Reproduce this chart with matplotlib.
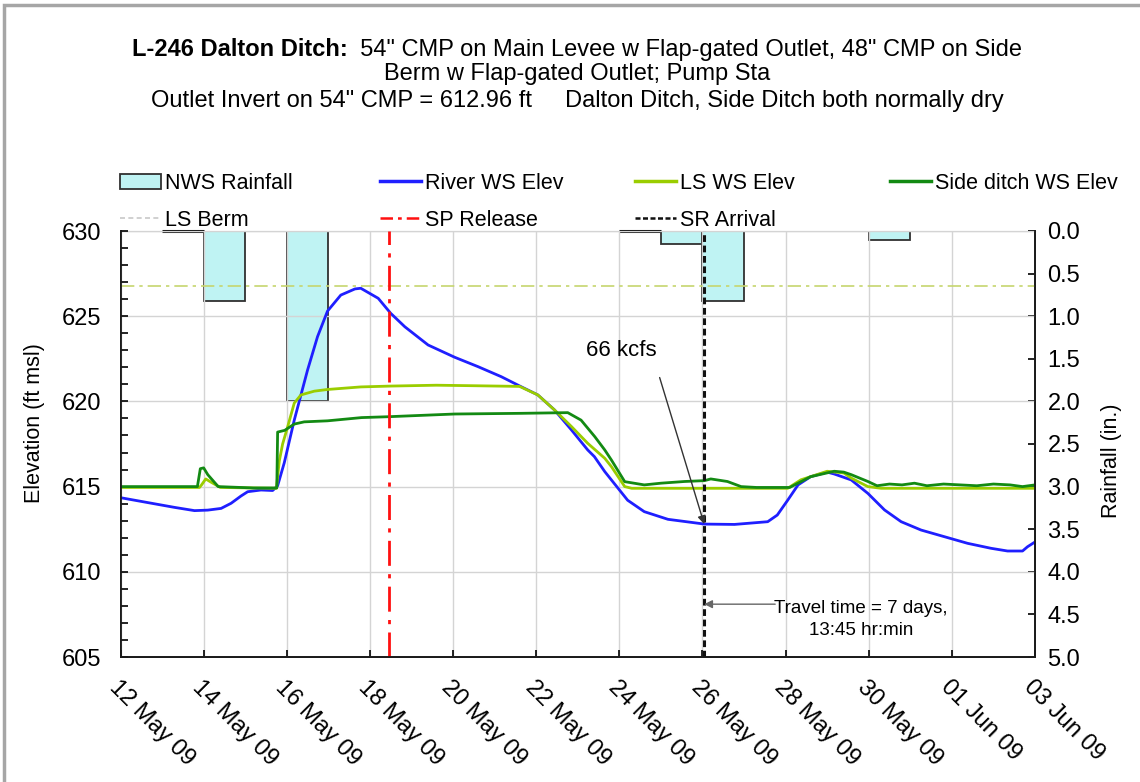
import matplotlib
matplotlib.use("Agg")
import matplotlib.pyplot as plt
import matplotlib.dates as mdates
from matplotlib.patches import Rectangle, Patch
from matplotlib.lines import Line2D
from matplotlib.ticker import FixedLocator, MultipleLocator, FormatStrFormatter
import pandas as pd

plt.rcParams['font.family'] = ['Liberation Sans', 'DejaVu Sans']

START = pd.Timestamp('2009-05-12')

# --- data (days after 12 May 09 00:00) ---
river_day = [0.0, 0.66, 1.3, 1.78, 2.1, 2.26, 2.42, 2.66, 2.9, 3.06, 3.38, 3.66, 3.78,
             3.94, 4.18, 4.5, 4.74, 4.98, 5.3, 5.64, 5.78, 5.88, 6.2, 6.5, 6.84, 7.4,
             8.04, 8.6, 9.16, 9.64, 10.04, 10.44, 10.85, 11.24, 11.4, 11.65, 11.81,
             12.2, 12.6, 13.17, 14.05, 14.77, 15.57, 15.8, 16.05, 16.3, 16.6, 17.0,
             17.17, 17.58, 17.98, 18.38, 18.78, 19.26, 19.82, 20.38, 20.94, 21.34,
             21.7, 21.82, 22.0]
river_elev = [614.35, 614.06, 613.78, 613.59, 613.62, 613.67, 613.72, 614.02, 614.45,
              614.70, 614.80, 614.77, 615.05, 616.4, 618.9, 621.84, 623.8, 625.3,
              626.24, 626.6, 626.64, 626.5, 626.05, 625.17, 624.38, 623.31, 622.59,
              622.04, 621.45, 620.86, 620.38, 619.5, 618.32, 617.15, 616.76, 615.88,
              615.39, 614.2, 613.53, 613.08, 612.8, 612.78, 612.94, 613.33, 614.2,
              615.1, 615.58, 615.85, 615.74, 615.39, 614.6, 613.63, 612.94, 612.45,
              612.06, 611.67, 611.38, 611.22, 611.22, 611.47, 611.75]

ls_day = [0.0, 1.9, 1.95, 2.05, 2.15, 2.4, 3.75, 3.82, 3.9, 4.02, 4.18, 4.34, 4.66,
          4.98, 5.78, 6.5, 7.6, 8.5, 9.6, 10.04, 10.44, 10.85, 11.24, 11.65, 11.81,
          12.13, 12.3, 14.0, 16.05, 16.37, 17.0, 17.4, 17.58, 17.98, 18.3, 22.0]
ls_elev = [614.95, 614.95, 615.1, 615.45, 615.3, 614.95, 614.9, 616.5, 617.5, 618.5,
           619.9, 620.38, 620.6, 620.7, 620.85, 620.9, 620.95, 620.92, 620.88, 620.38,
           619.5, 618.52, 617.54, 616.66, 616.17, 615.0, 614.9, 614.9, 614.9, 615.4,
           615.9, 615.8, 615.5, 615.0, 614.9, 614.9]

side_day = [0.0, 1.85, 1.92, 2.0, 2.1, 2.35, 3.2, 3.76, 3.78, 3.95, 4.18, 4.42, 4.98,
            5.8, 6.43, 8.04, 9.64, 10.76, 11.08, 11.41, 11.65, 11.81, 12.13, 12.6,
            13.0, 13.57, 14.05, 14.2, 14.6, 14.93, 15.3, 16.1, 16.6, 17.17, 17.4,
            17.58, 17.98, 18.2, 18.5, 18.8, 19.1, 19.4, 19.8, 20.2, 20.6, 21.0, 21.4,
            21.7, 22.0]
side_elev = [615.0, 615.0, 616.05, 616.1, 615.7, 615.0, 614.92, 614.92, 618.2, 618.3,
             618.67, 618.8, 618.86, 619.05, 619.1, 619.26, 619.3, 619.34, 618.9, 617.93,
             617.15, 616.56, 615.29, 615.1, 615.2, 615.3, 615.35, 615.45, 615.3, 615.0,
             614.95, 614.95, 615.58, 615.9, 615.85, 615.7, 615.3, 615.05, 615.15, 615.1,
             615.2, 615.05, 615.15, 615.1, 615.05, 615.15, 615.1, 615.0, 615.1]

rain_date = ['2009-05-13', '2009-05-14', '2009-05-16', '2009-05-24', '2009-05-25',
             '2009-05-26', '2009-05-30']
rain_in = [0.0, 0.82, 2.0, 0.0, 0.15, 0.82, 0.1]

ls_berm_elev = 626.8
sp_release = pd.Timestamp('2009-05-18 11:15')
travel_time = pd.Timedelta('7 days 13:45:00')
sr_arrival = sp_release + travel_time

x_ticks = pd.date_range('2009-05-12', '2009-06-03', freq='2D')


def days_to_num(days):
    return mdates.date2num(START + pd.to_timedelta(days, unit='D'))


W, H = 1140, 782
fig = plt.figure(figsize=(W / 100, H / 100), dpi=100)


def fx(px):
    return px / W


def fy(py):
    return 1 - py / H


# outer frame of the chart
fig.patches.append(Rectangle((fx(4), fy(790)), fx(1160), fy(5) - fy(790),
                             transform=fig.transFigure, fill=False,
                             edgecolor='#a6a6a6', linewidth=2.5))

ax = fig.add_axes([fx(120.5), fy(657), fx(1035) - fx(120.5), fy(231) - fy(657)])
ax2 = ax.twinx()
ax.set_zorder(ax2.get_zorder() + 1)
ax.patch.set_visible(False)

# rainfall bars hanging from the top
rain_x = mdates.date2num(pd.to_datetime(rain_date))
ax2.bar(rain_x, rain_in, width=1.0, align='edge',
        color='#bff3f3', edgecolor='#303030', linewidth=1.3, zorder=3)
# days with 0.0 in. show only as a dark edge along the top
for x, v in zip(rain_x, rain_in):
    if v == 0:
        ax2.hlines(v, x, x + 1.0, color='#202020', linewidth=2.2, zorder=4, clip_on=False)
ax2.set_ylim(5, 0)
ax2.yaxis.set_major_locator(MultipleLocator(0.5))
ax2.yaxis.set_major_formatter(FormatStrFormatter('%.1f'))

# elevation series
ax.plot(days_to_num(river_day), river_elev, color='#1f1fff', linewidth=2.0)
ax.plot(days_to_num(ls_day), ls_elev, color='#9acd00', linewidth=2.0)
ax.plot(days_to_num(side_day), side_elev, color='#138a13', linewidth=2.0)
ax.axhline(ls_berm_elev, color='#c6d66e', linewidth=1.2, linestyle=(0, (8, 3, 2, 3)))
ax.axvline(mdates.date2num(sp_release), color='#ff1010', linewidth=2.0,
           linestyle=(0, (9, 3, 1.5, 3)))
ax.axvline(mdates.date2num(sr_arrival), color='#111111', linewidth=2.2,
           linestyle=(0, (2.2, 1.2)))

ax.set_ylim(605, 630)
ax.set_xlim(mdates.date2num(x_ticks[0]), mdates.date2num(x_ticks[-1]))
ax.yaxis.set_major_locator(MultipleLocator(5))
ax.yaxis.set_minor_locator(MultipleLocator(1))
ax.xaxis.set_major_locator(FixedLocator(mdates.date2num(x_ticks)))
ax.xaxis.set_major_formatter(mdates.DateFormatter('%d %b %y'))
ax.grid(True, which='major', color='#d4d4d4', linewidth=1.0)

ax.tick_params(axis='y', which='both', direction='in', length=5, width=1.2,
               labelsize=17, pad=14)
ax.tick_params(axis='x', direction='in', length=5, width=1.2, labelsize=17, pad=14)
ax2.tick_params(axis='y', direction='in', length=5, width=1.2, labelsize=17, pad=9)
for lab in ax.get_xticklabels():
    lab.set_rotation(-45)
    lab.set_ha('left')
    lab.set_va('top')
    lab.set_rotation_mode('anchor')

for a in (ax, ax2):
    for side in ('left', 'right', 'bottom'):
        a.spines[side].set_color('#1a1a1a')
        a.spines[side].set_linewidth(1.3)
ax.spines['top'].set_visible(False)
ax2.spines['top'].set_color('#9a9a9a')
ax2.spines['top'].set_zorder(0.5)

ax.set_ylabel('Elevation (ft msl)', fontsize=15.5)
ax.yaxis.set_label_coords(-0.083, 0.55)
ax2.set_ylabel('Rainfall (in.)', fontsize=15.5, rotation=90)
ax2.yaxis.set_label_coords(1.072, 0.46)

# annotations
ax.annotate('', xy=(mdates.date2num(sr_arrival), 612.8),
            xytext=(days_to_num(12.97), 621.4),
            arrowprops=dict(arrowstyle='-|>', color='#333333', linewidth=1.0,
                            mutation_scale=12, shrinkA=0, shrinkB=0))
ax.text(days_to_num(12.05), 623.0, '66 kcfs', fontsize=16, ha='center', va='center')
ax.annotate('', xy=(mdates.date2num(sr_arrival), 608.1),
            xytext=(days_to_num(15.75), 608.1),
            arrowprops=dict(arrowstyle='-|>', color='#666666', linewidth=1.0,
                            mutation_scale=12, shrinkA=0, shrinkB=0))
ax.text(days_to_num(17.82), 607.2, 'Travel time = 7 days,\n13:45 hr:min', fontsize=13.5,
        ha='center', va='center', multialignment='center', linespacing=1.45)

# legend laid out in four columns like the original
col_x = [120, 380, 635, 890]
rain_h = Patch(facecolor='#bff3f3', edgecolor='#303030', linewidth=1.3, label='NWS Rainfall')
berm_h = Line2D([], [], color='#c8c8c8', linewidth=1.2, linestyle=(0, (3, 2)), label='LS Berm')
river_h = Line2D([], [], color='#1f1fff', linewidth=2.5, label='River WS Elev')
sp_h = Line2D([], [], color='#ff1010', linewidth=1.8, linestyle=(0, (5, 2, 1.5, 2)),
              label='SP Release')
ls_h = Line2D([], [], color='#9acd00', linewidth=2.5, label='LS WS Elev')
sr_h = Line2D([], [], color='#111111', linewidth=1.8, linestyle=(0, (2, 1)),
              label='SR Arrival')
side_h = Line2D([], [], color='#138a13', linewidth=2.5, label='Side ditch WS Elev')
columns = [[rain_h, berm_h], [river_h, sp_h], [ls_h, sr_h], [side_h]]
for cx, hs in zip(col_x, columns):
    fig.legend(handles=hs, loc='upper left', bbox_to_anchor=(fx(cx), fy(173)),
               frameon=False, fontsize=15.5, borderpad=0, borderaxespad=0,
               handlelength=1.9, handletextpad=0.2, labelspacing=0.72)

# title
t1 = fig.text(0, fy(50), 'L-246 Dalton Ditch:', fontsize=17, fontweight='bold',
              ha='left', va='center')
t2 = fig.text(0, fy(50), '  54" CMP on Main Levee w Flap-gated Outlet, 48" CMP on Side',
              fontsize=17, ha='left', va='center')
fig.text(fx(577), fy(74), 'Berm w Flap-gated Outlet; Pump Sta', fontsize=17,
         ha='center', va='center')
fig.text(fx(577), fy(101),
         'Outlet Invert on 54" CMP = 612.96 ft     Dalton Ditch, Side Ditch both normally dry',
         fontsize=17, ha='center', va='center')
r = fig.canvas.get_renderer()
w1 = t1.get_window_extent(r).width
w2 = t2.get_window_extent(r).width
x0 = 577 - (w1 + w2) / 2
t1.set_x(fx(x0))
t2.set_x(fx(x0 + w1))

fig.savefig('out.png', dpi=100)
